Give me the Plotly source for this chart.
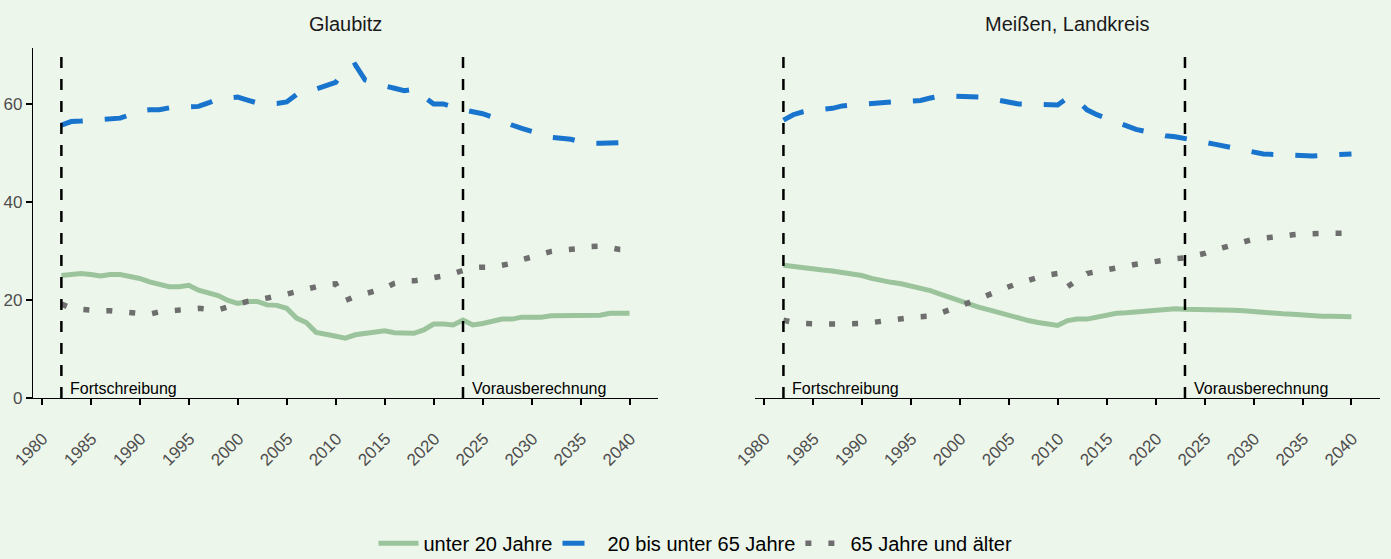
import plotly.graph_objects as go

years = [1982, 1983, 1984, 1985, 1986, 1987, 1988, 1989, 1990, 1991,
         1992, 1993, 1994, 1995, 1996, 1997, 1998, 1999, 2000, 2001,
         2002, 2003, 2004, 2005, 2006, 2007, 2008, 2009, 2010, 2011,
         2012, 2013, 2014, 2015, 2016, 2017, 2018, 2019, 2020, 2021,
         2022, 2023, 2024, 2025, 2026, 2027, 2028, 2029, 2030, 2031,
         2032, 2033, 2034, 2035, 2036, 2037, 2038, 2039, 2040]

regions = ["Glaubitz", "Meißen, Landkreis"]
series_names = ["unter 20 Jahre", "20 bis unter 65 Jahre", "65 Jahre und älter"]

glaubitz_u20 = [25.0, 25.3, 25.4, 25.2, 24.9, 25.2, 25.2, 24.8, 24.4, 23.7,
                23.1, 22.7, 22.7, 23.0, 22.0, 21.4, 20.9, 19.9, 19.3, 19.7,
                19.7, 19.0, 18.9, 18.3, 16.3, 15.4, 13.4, 13.0, 12.5, 12.2,
                12.9, 13.2, 13.5, 13.7, 13.3, 13.3, 13.2, 13.9, 15.1, 15.1,
                14.9, 15.9, 14.9, 15.2, 15.6, 16.1, 16.1, 16.5, 16.5, 16.5,
                16.8, 16.8, 16.8, 16.8, 16.8, 16.9, 17.3, 17.3, 17.3]
glaubitz_20_65 = [55.7, 56.4, 56.5, 56.6, 56.7, 56.9, 57.1, 57.8, 58.6, 58.8,
                  58.8, 59.2, 59.3, 59.4, 59.5, 60.2, 61.0, 61.2, 61.4, 60.8,
                  60.2, 60.1, 60.1, 60.4, 61.9, 62.4, 63.1, 63.8, 64.4, 67.0,
                  68.0, 64.9, 64.2, 63.7, 63.2, 62.7, 63.0, 61.5, 60.0, 60.0,
                  59.3, 58.8, 58.4, 58.0, 57.3, 56.4, 55.7, 55.0, 54.4, 53.7,
                  53.2, 53.0, 52.8, 52.3, 52.0, 52.0, 52.0, 52.1, 52.3]
glaubitz_65 = [19.2, 18.3, 18.1, 17.9, 17.8, 17.8, 17.6, 17.4, 17.3, 17.1,
               17.6, 17.8, 17.8, 18.0, 18.3, 18.1, 18.0, 18.6, 19.2, 19.7,
               20.0, 20.3, 20.8, 21.2, 21.7, 22.4, 22.9, 23.2, 23.3, 19.9,
               20.7, 21.2, 21.9, 22.4, 23.4, 23.9, 23.9, 24.2, 24.6, 24.9,
               25.4, 26.1, 26.6, 26.7, 26.7, 27.1, 27.5, 28.2, 28.8, 29.2,
               29.9, 30.2, 30.3, 30.5, 30.9, 31.0, 30.7, 30.3, 30.2]

meissen_u20 = [27.1, 26.8, 26.5, 26.3, 26.1, 25.9, 25.6, 25.3, 25.0, 24.4,
               23.9, 23.6, 23.3, 22.9, 22.5, 21.9, 21.2, 20.5, 19.8, 19.1,
               18.5, 18.0, 17.4, 16.9, 16.3, 15.8, 15.4, 15.0, 14.8, 15.8,
               16.1, 16.1, 16.5, 16.9, 17.3, 17.4, 17.6, 17.8, 17.8, 18.0,
               18.2, 18.1, 18.1, 18.1, 18.0, 18.0, 17.9, 17.8, 17.6, 17.5,
               17.3, 17.2, 17.1, 16.9, 16.8, 16.7, 16.7, 16.6, 16.6]
meissen_20_65 = [56.7, 57.8, 58.4, 58.8, 58.9, 59.1, 59.6, 59.8, 60.0, 60.1,
                 60.3, 60.4, 60.5, 60.5, 60.7, 61.2, 61.6, 61.6, 61.6, 61.5,
                 61.4, 61.1, 60.8, 60.5, 60.0, 60.0, 60.0, 59.8, 59.8, 61.2,
                 60.7, 58.8, 57.8, 57.1, 56.4, 55.5, 54.8, 54.4, 53.9, 53.5,
                 53.3, 53.0, 52.7, 52.2, 51.8, 51.4, 51.0, 50.5, 50.1, 49.8,
                 49.7, 49.6, 49.5, 49.4, 49.4, 49.5, 49.6, 49.7, 49.8]
meissen_65 = [15.9, 15.4, 15.2, 15.1, 15.1, 15.1, 15.1, 15.1, 15.2, 15.4,
              15.7, 15.9, 16.1, 16.4, 16.6, 16.7, 17.3, 18.0, 18.6, 19.5,
              20.3, 21.2, 22.0, 22.7, 23.4, 24.1, 24.6, 25.1, 25.4, 22.7,
              24.1, 25.4, 25.8, 26.1, 26.6, 26.9, 27.3, 27.6, 28.0, 28.3,
              28.4, 28.6, 29.0, 29.5, 30.2, 30.7, 31.4, 31.9, 32.4, 32.6,
              32.9, 33.1, 33.3, 33.5, 33.6, 33.6, 33.6, 33.6, 33.6]

period_years = [1982, 2023]
period_labels = ["Fortschreibung", "Vorausberechnung"]
x_ticks = [1980, 1985, 1990, 1995, 2000, 2005, 2010, 2015, 2020, 2025, 2030, 2035, 2040]
y_ticks = [0, 20, 40, 60]

data_by_region = {
    "Glaubitz": [glaubitz_u20, glaubitz_20_65, glaubitz_65],
    "Meißen, Landkreis": [meissen_u20, meissen_20_65, meissen_65],
}

BG = "#EDF6EB"
FONT = "Liberation Sans"
styles = [
    dict(color="#9BC49D", width=5, dash="solid"),
    dict(color="#1874CD", width=5, dash="22px,22px"),
    dict(color="#6E6E6E", width=5.5, dash="6px,17px"),
]

fig = go.Figure()
for ri, region in enumerate(regions):
    xa = "x" if ri == 0 else "x2"
    ya = "y" if ri == 0 else "y2"
    for si, name in enumerate(series_names):
        fig.add_trace(go.Scatter(
            x=years, y=data_by_region[region][si], mode="lines", name=name,
            line=styles[si], xaxis=xa, yaxis=ya,
            showlegend=(ri == 0), legendgroup=name,
        ))

ymax = max(max(glaubitz_20_65), max(meissen_20_65)) * 1.05
xspan = years[-1] - years[0]
xrange = [years[0] - 0.05 * xspan, years[-1] + 0.05 * xspan]

domains = [[0.0237, 0.473], [0.5428, 0.992]]
ydom = [0.288, 0.914]

common_x = dict(
    range=xrange, tickvals=x_ticks, tickangle=-45, showgrid=False, zeroline=False,
    showline=True, linecolor="black", linewidth=1.2, ticks="outside", ticklen=6,
    tickcolor="black", tickwidth=1.5, automargin=False,
    ticklabelstandoff=17, ticklabelshift=1,
    tickfont=dict(family=FONT, size=17, color="#4D4D4D"),
)
fig.update_layout(
    xaxis=dict(domain=domains[0], anchor="y", **common_x),
    xaxis2=dict(domain=domains[1], anchor="y2", **common_x),
    yaxis=dict(domain=ydom, anchor="x", range=[0, ymax], tickvals=y_ticks,
               showgrid=False, zeroline=False, showline=True, linecolor="black",
               linewidth=1.2, ticks="outside", ticklen=6, tickcolor="black",
               tickwidth=1.5, automargin=False,
               tickfont=dict(family=FONT, size=17, color="#4D4D4D")),
    yaxis2=dict(domain=ydom, anchor="x2", range=[0, ymax], tickvals=y_ticks,
                showgrid=False, zeroline=False, showline=False, showticklabels=False,
                ticks="", automargin=False),
)

shapes = []
annotations = []
for ri, region in enumerate(regions):
    xref = "x" if ri == 0 else "x2"
    yref_dom = "y domain" if ri == 0 else "y2 domain"
    yref = "y" if ri == 0 else "y2"
    for py, lab in zip(period_years, period_labels):
        shapes.append(dict(type="line", xref=xref, yref=yref_dom, x0=py, x1=py,
                           y0=0, y1=1, line=dict(color="black", width=2.5, dash="11px,11px"),
                           layer="above"))
        annotations.append(dict(x=py, y=0, xref=xref, yref=yref, text=lab,
                                showarrow=False, xanchor="left", yanchor="bottom",
                                xshift=7, yshift=-1,
                                font=dict(family=FONT, size=16, color="black")))
    annotations.append(dict(x=sum(domains[ri]) / 2, y=ydom[1] + 0.043, xref="paper",
                            yref="paper", text=region, showarrow=False,
                            xanchor="center", yanchor="middle",
                            font=dict(family=FONT, size=20, color="#1A1A1A")))

fig.update_layout(
    width=1391, height=559,
    margin=dict(l=0, r=0, t=0, b=0, autoexpand=False),
    paper_bgcolor=BG, plot_bgcolor=BG,
    shapes=shapes, annotations=annotations,
    showlegend=True,
    legend=dict(orientation="h", x=0.5, xanchor="center", y=0.028, yanchor="middle",
                font=dict(family=FONT, size=20, color="black"), bgcolor="rgba(0,0,0,0)",
                itemwidth=40),
)

fig.write_html("out.html", config={"displayModeBar": False},
               post_script="document.body.style.margin='0';")
